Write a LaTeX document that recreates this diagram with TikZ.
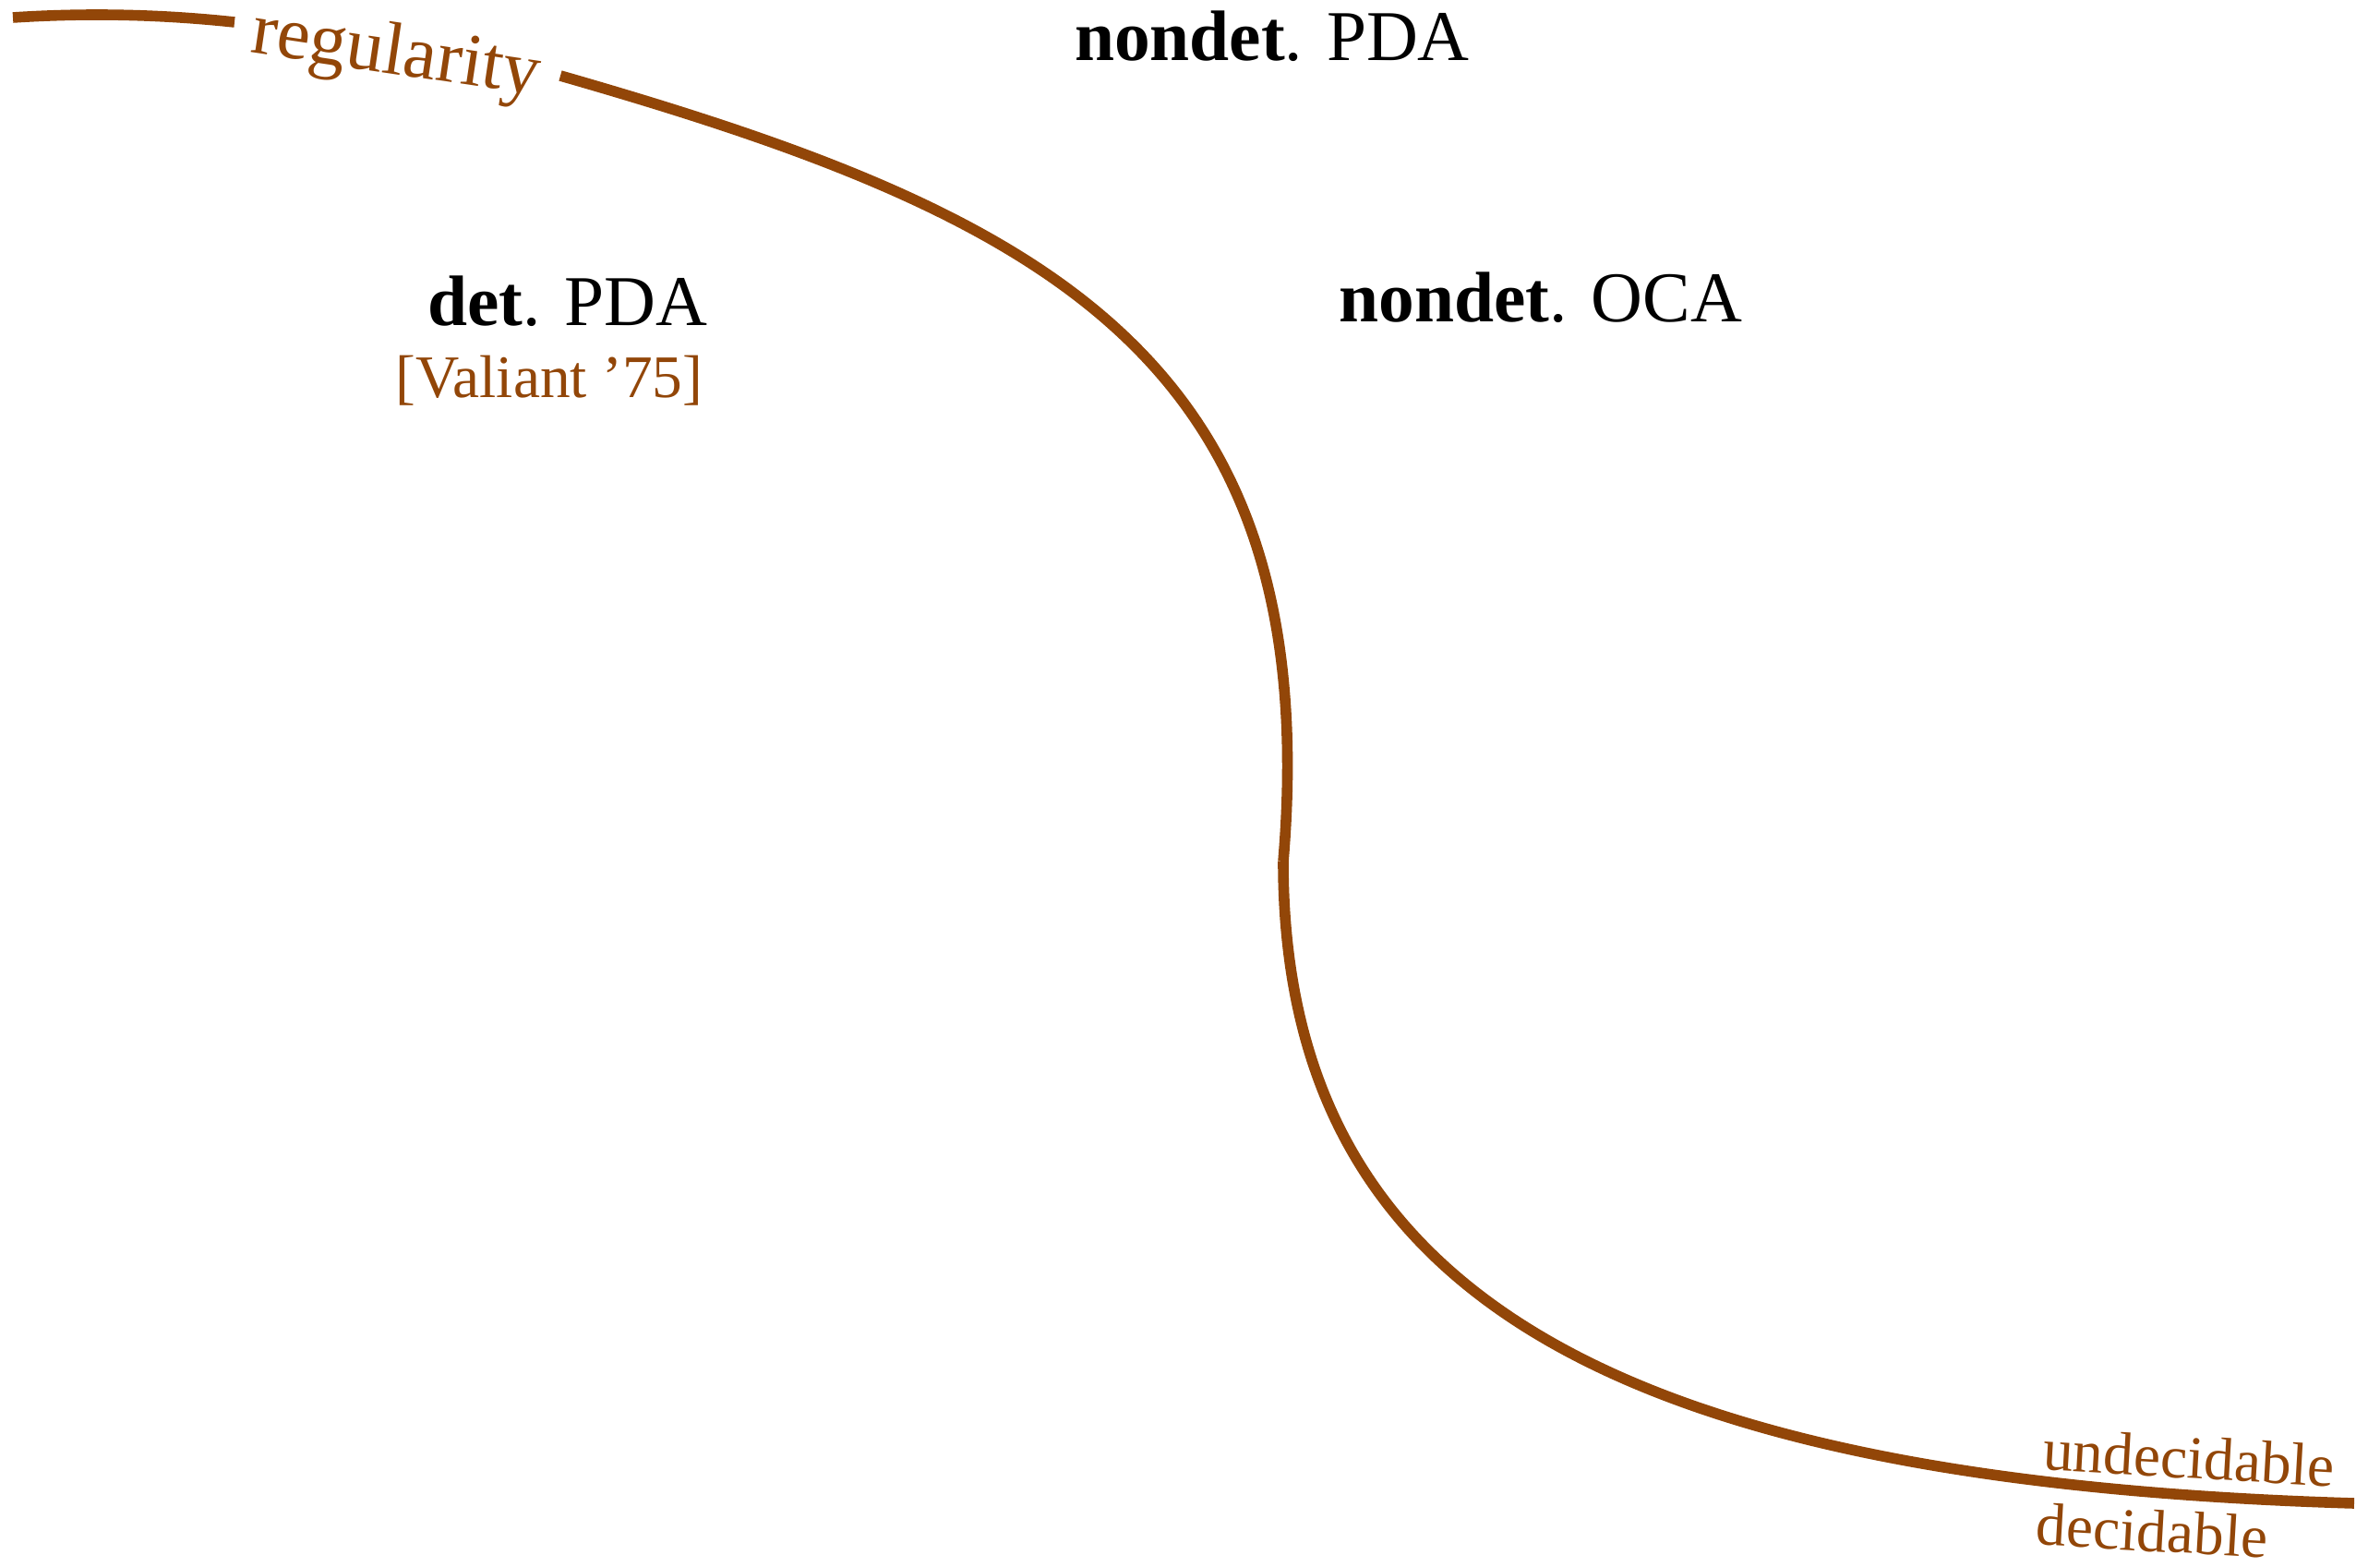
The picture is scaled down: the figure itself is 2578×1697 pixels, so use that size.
\documentclass[tikz,border=0pt]{standalone}
\usepackage{fontspec}
\setmainfont{Liberation Serif}
\definecolor{brn}{RGB}{146,70,8}
\tikzset{
  curve/.style={draw=brn, line width=3.3pt},
  lbl/.style={inner sep=0pt, font=\fontsize{22}{26}\selectfont},
  brnlbl/.style={inner sep=0pt, text=brn, font=\fontsize{18.6}{22}\selectfont},
  reglbl/.style={inner sep=0pt, text=brn, font=\fontsize{23}{27}\selectfont}
}
\begin{document}
\begin{tikzpicture}[x=0.01cm, y=-0.01cm]
\useasboundingbox (0,0) rectangle (2578,1697);
% curve
\coordinate (c0) at (14,19);
\coordinate (c1) at (254,24);
\coordinate (c2) at (607,82);
\coordinate (c3) at (1390,933);
\coordinate (c4) at (2550,1628);
\draw[curve] (c0) .. controls (90,14) and (170,15) .. (c1);
\draw[curve] (c2) .. controls (1130,232) and (1436,385) .. (c3);
\draw[curve] (c3) .. controls (1390,1403) and (1750,1604) .. (c4);
% labels on curve
\node[reglbl, anchor=base, rotate=-8.5] (reg) at (426,80) {regularity};
\node[brnlbl, anchor=base, rotate=-3.3] (undec) at (2370,1601) {undecidable};
\node[brnlbl, anchor=base, rotate=-3.3] (dec) at (2330,1680) {decidable};
% class labels
\node[lbl, anchor=base] (npda) at (1378,66) {\textbf{nondet}. PDA};
\node[lbl, anchor=base east] (dpda) at (767,353) {\textbf{det}. PDA};
\node[brnlbl, anchor=base east] (val) at (762,430) {[Valiant ’75]};
\node[lbl, anchor=base] (noca) at (1669,348) {\textbf{nondet}. OCA};
\end{tikzpicture}
\end{document}
